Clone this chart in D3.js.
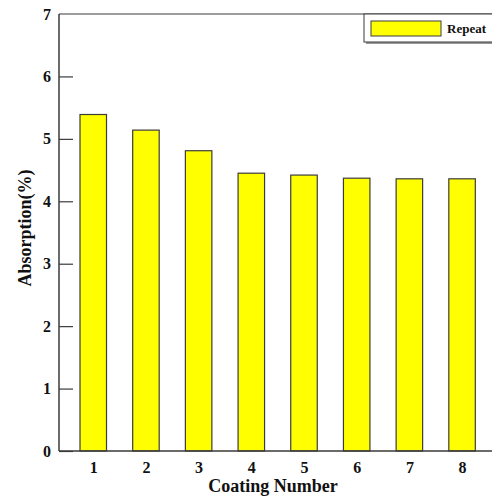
<!DOCTYPE html>
<html>
<head>
<meta charset="utf-8">
<script src="https://cdn.jsdelivr.net/npm/d3@7"></script>
<style>
  html, body { margin: 0; padding: 0; background: #fff; }
  svg { display: block; }
  text { font-family: "Liberation Serif", "Times New Roman", serif; font-weight: bold; fill: #111; }
</style>
</head>
<body>
<svg id="chart" width="492" height="497"></svg>
<script>
// Absorption after each repeated coating
const coatingNumbers = [1, 2, 3, 4, 5, 6, 7, 8];
const absorption = [5.39, 5.14, 4.81, 4.45, 4.42, 4.37, 4.36, 4.36];
const yTicks = [0, 1, 2, 3, 4, 5, 6, 7];
const seriesName = "Repeat";
const xTitle = "Coating Number";
const yTitle = "Absorption(%)";

const svg = d3.select("#chart");
const plotLeft = 59, plotTop = 14, plotBottom = 451, plotRight = 549;

const x = d3.scaleLinear().domain([0.35, 9.65]).range([plotLeft, plotRight]);
const y = d3.scaleLinear().domain([0, 7]).range([plotBottom, plotTop]);
const barW = 26.5;
const axisColor = "#3a3a3a";

// bars
svg.append("g").selectAll("rect")
  .data(coatingNumbers)
  .join("rect")
  .attr("x", (d) => x(d) - barW / 2)
  .attr("y", (d, i) => y(absorption[i]))
  .attr("width", barW)
  .attr("height", (d, i) => y(0) - y(absorption[i]))
  .attr("fill", "#ffff00")
  .attr("stroke", "#3c3c3c")
  .attr("stroke-width", 1.2);

// frame: left axis, top line, bottom axis
svg.append("line").attr("x1", plotLeft).attr("x2", plotLeft).attr("y1", plotTop).attr("y2", plotBottom)
  .attr("stroke", axisColor).attr("stroke-width", 1.5);
svg.append("line").attr("x1", plotLeft).attr("x2", plotRight).attr("y1", plotTop).attr("y2", plotTop)
  .attr("stroke", axisColor).attr("stroke-width", 1.2);
svg.append("line").attr("x1", plotLeft).attr("x2", plotRight).attr("y1", plotBottom).attr("y2", plotBottom)
  .attr("stroke", axisColor).attr("stroke-width", 1.5);

// y axis: inward ticks, labels just left of the axis line
const yAxis = d3.axisLeft(y).tickValues(yTicks).tickSize(-14).tickPadding(8)
  .tickFormat(d3.format("d"));
const gy = svg.append("g").attr("transform", `translate(${plotLeft},0)`).call(yAxis);
gy.select(".domain").remove();
gy.selectAll(".tick line").attr("stroke", axisColor).attr("stroke-width", 1.2);
gy.selectAll(".tick text").attr("font-size", 16).attr("fill", "#111")
  .attr("font-family", "Liberation Serif, serif").attr("font-weight", "bold");
// the top tick sits on the frame line
gy.selectAll(".tick").filter((d) => d === 7).select("line").remove();

// x axis: labels only
const xAxis = d3.axisBottom(x).tickValues(coatingNumbers).tickSize(0).tickPadding(11)
  .tickFormat(d3.format("d"));
const gx = svg.append("g").attr("transform", `translate(0,${plotBottom})`).call(xAxis);
gx.select(".domain").remove();
gx.selectAll(".tick text").attr("font-size", 16).attr("fill", "#111")
  .attr("font-family", "Liberation Serif, serif").attr("font-weight", "bold");

// axis titles
svg.append("text").attr("x", 273).attr("y", 492).attr("text-anchor", "middle")
  .attr("font-size", 18).text(xTitle);
svg.append("text").attr("transform", "translate(31,228) rotate(-90)")
  .attr("text-anchor", "middle").attr("font-size", 18).text(yTitle);

// legend
const lg = svg.append("g");
lg.append("rect").attr("x", 366).attr("y", 16).attr("width", 140).attr("height", 28)
  .attr("fill", "#999");
lg.append("rect").attr("x", 364).attr("y", 14).attr("width", 140).attr("height", 28)
  .attr("fill", "#fff").attr("stroke", axisColor).attr("stroke-width", 1);
lg.append("rect").attr("x", 371).attr("y", 21).attr("width", 70).attr("height", 15)
  .attr("fill", "#ffff00").attr("stroke", "#3c3c3c").attr("stroke-width", 1);
lg.append("text").attr("x", 447).attr("y", 33).attr("font-size", 13).text(seriesName);
</script>
</body>
</html>
